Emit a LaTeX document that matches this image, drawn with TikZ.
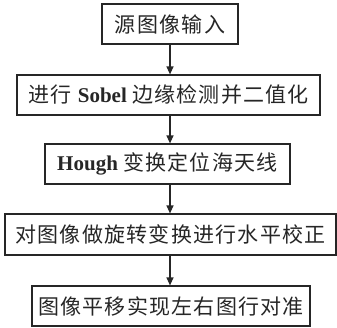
\documentclass[tikz,border=0pt]{standalone}
\usepackage{fontspec}
\setmainfont{Liberation Serif}
\newfontfamily\cjk[LetterSpace=6]{Noto Sans CJK SC}
\usetikzlibrary{arrows.meta}
\begin{document}
\begin{tikzpicture}[x=1pt,y=-1pt,
  box/.style={draw=black!85, line width=1.2pt, minimum height=40pt, inner sep=0pt,
    text=black!85, font=\fontsize{21}{24}\selectfont},
  arr/.style={draw=black!85, line width=1.2pt, -{Triangle[length=8pt,width=7pt]}}]
\useasboundingbox (0,0) rectangle (337,327);
\node[box, minimum width=136pt] (b1) at (170,24) {\cjk 源图像输入};
\node[box, minimum width=303pt] (b2) at (168.5,95) {{\cjk 进行} \textbf{Sobel} {\cjk 边缘检测并二值化}};
\node[box, minimum width=245pt] (b3) at (167.5,164) {\textbf{Hough} {\cjk 变换定位海天线}};
\node[box, minimum width=331pt, minimum height=41pt] (b4) at (170.5,234.5) {\cjk 对图像做旋转变换进行水平校正};
\node[box, minimum width=278pt] (b5) at (171,306) {\cjk 图像平移实现左右图行对准};
\draw[arr] (b1.south) -- (b1.south |- b2.north);
\draw[arr] (b1.south |- b2.south) -- (b1.south |- b3.north);
\draw[arr] (b1.south |- b3.south) -- (b1.south |- b4.north);
\draw[arr] (b1.south |- b4.south) -- (b1.south |- b5.north);
\end{tikzpicture}
\end{document}
